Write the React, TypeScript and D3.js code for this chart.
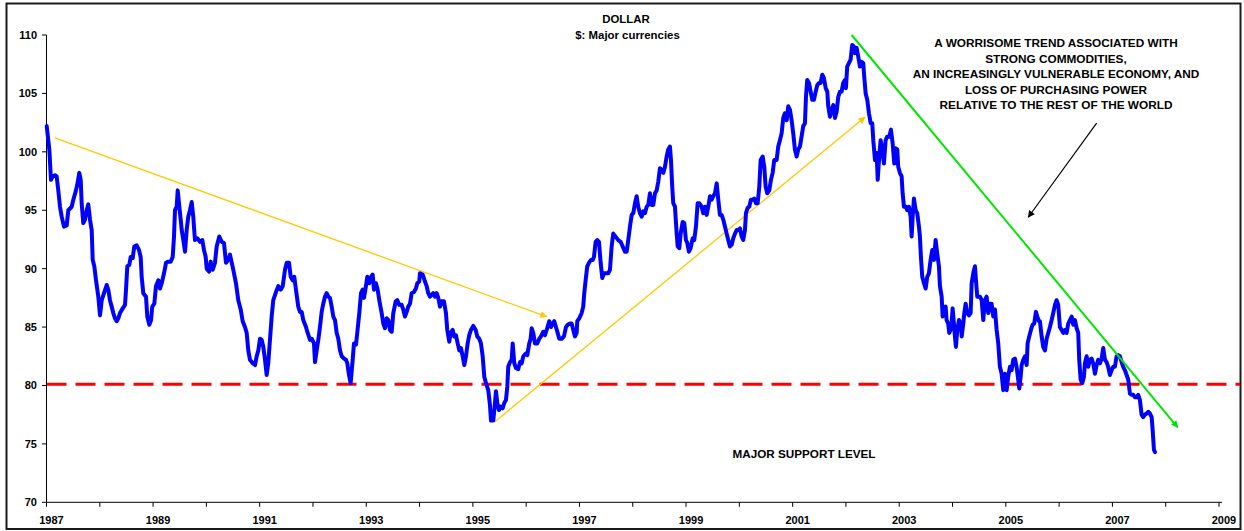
import React from 'react';
import * as d3 from 'd3';

// Weekly dollar index vs major currencies (decimal year, index value)
const dates: number[] = [
  1987.004, 1987.053, 1987.084, 1987.116, 1987.159, 1987.191, 1987.221, 1987.253, 1987.285, 1987.328,
  1987.379, 1987.409, 1987.473, 1987.503, 1987.553, 1987.578, 1987.615, 1987.642, 1987.660, 1987.690,
  1987.722, 1987.754, 1987.784, 1987.816, 1987.848, 1987.867, 1987.897, 1987.929, 1987.972, 1988.004,
  1988.036, 1988.079, 1988.129, 1988.159, 1988.191, 1988.223, 1988.253, 1988.285, 1988.317, 1988.347,
  1988.379, 1988.430, 1988.473, 1988.492, 1988.516, 1988.553, 1988.580, 1988.617, 1988.647, 1988.692,
  1988.735, 1988.767, 1988.786, 1988.816, 1988.867, 1988.891, 1988.929, 1988.961, 1988.985, 1989.023,
  1989.054, 1989.098, 1989.129, 1989.161, 1989.205, 1989.242, 1989.285, 1989.330, 1989.368, 1989.392,
  1989.411, 1989.443, 1989.462, 1989.492, 1989.518, 1989.537, 1989.567, 1989.599, 1989.630, 1989.660,
  1989.692, 1989.724, 1989.754, 1989.767, 1989.786, 1989.829, 1989.880, 1989.923, 1989.955, 1989.987,
  1990.006, 1990.049, 1990.081, 1990.118, 1990.161, 1990.193, 1990.242, 1990.287, 1990.330, 1990.368,
  1990.411, 1990.443, 1990.505, 1990.555, 1990.599, 1990.644, 1990.681, 1990.724, 1990.756, 1990.786,
  1990.818, 1990.869, 1990.912, 1990.944, 1990.974, 1991.006, 1991.038, 1991.068, 1991.100, 1991.131,
  1991.161, 1991.193, 1991.225, 1991.255, 1991.306, 1991.349, 1991.394, 1991.432, 1991.475, 1991.507,
  1991.550, 1991.582, 1991.619, 1991.649, 1991.681, 1991.724, 1991.756, 1991.788, 1991.818, 1991.869,
  1991.893, 1991.944, 1991.976, 1992.019, 1992.038, 1992.069, 1992.100, 1992.131, 1992.163, 1992.193,
  1992.225, 1992.257, 1992.287, 1992.319, 1992.351, 1992.381, 1992.413, 1992.445, 1992.475, 1992.507,
  1992.539, 1992.582, 1992.619, 1992.644, 1992.675, 1992.707, 1992.745, 1992.769, 1992.807, 1992.831,
  1992.869, 1992.901, 1992.932, 1992.957, 1992.994, 1993.019, 1993.056, 1993.088, 1993.120, 1993.144,
  1993.182, 1993.214, 1993.244, 1993.289, 1993.319, 1993.351, 1993.383, 1993.413, 1993.445, 1993.477,
  1993.507, 1993.552, 1993.582, 1993.619, 1993.664, 1993.694, 1993.726, 1993.758, 1993.788, 1993.820,
  1993.852, 1993.895, 1993.932, 1993.957, 1993.994, 1994.007, 1994.058, 1994.101, 1994.133, 1994.163,
  1994.195, 1994.227, 1994.257, 1994.289, 1994.321, 1994.351, 1994.383, 1994.415, 1994.458, 1994.495,
  1994.520, 1994.557, 1994.584, 1994.621, 1994.651, 1994.683, 1994.715, 1994.745, 1994.777, 1994.809,
  1994.839, 1994.871, 1994.902, 1994.932, 1994.964, 1995.008, 1995.053, 1995.083, 1995.120, 1995.152,
  1995.184, 1995.214, 1995.246, 1995.289, 1995.321, 1995.340, 1995.383, 1995.415, 1995.433, 1995.458,
  1995.490, 1995.522, 1995.559, 1995.589, 1995.621, 1995.646, 1995.664, 1995.696, 1995.728, 1995.747,
  1995.777, 1995.809, 1995.852, 1995.884, 1995.916, 1995.946, 1995.996, 1996.021, 1996.058, 1996.084,
  1996.103, 1996.133, 1996.165, 1996.208, 1996.246, 1996.278, 1996.321, 1996.353, 1996.385, 1996.433,
  1996.465, 1996.497, 1996.527, 1996.559, 1996.591, 1996.621, 1996.666, 1996.709, 1996.747, 1996.779,
  1996.822, 1996.854, 1996.884, 1996.916, 1996.948, 1996.959, 1996.996, 1997.041, 1997.071, 1997.090,
  1997.116, 1997.146, 1997.178, 1997.216, 1997.248, 1997.272, 1997.304, 1997.334, 1997.366, 1997.398,
  1997.428, 1997.460, 1997.497, 1997.540, 1997.572, 1997.604, 1997.634, 1997.685, 1997.728, 1997.773,
  1997.811, 1997.854, 1997.886, 1997.916, 1997.948, 1997.980, 1998.010, 1998.042, 1998.073, 1998.103,
  1998.135, 1998.167, 1998.197, 1998.229, 1998.261, 1998.291, 1998.323, 1998.355, 1998.385, 1998.417,
  1998.449, 1998.479, 1998.510, 1998.542, 1998.572, 1998.604, 1998.636, 1998.666, 1998.698, 1998.717,
  1998.741, 1998.760, 1998.792, 1998.824, 1998.843, 1998.873, 1998.899, 1998.937, 1998.967, 1998.998,
  1999.023, 1999.054, 1999.086, 1999.124, 1999.154, 1999.186, 1999.218, 1999.248, 1999.293, 1999.323,
  1999.355, 1999.387, 1999.417, 1999.449, 1999.481, 1999.511, 1999.543, 1999.575, 1999.605, 1999.636,
  1999.668, 1999.698, 1999.730, 1999.762, 1999.792, 1999.824, 1999.856, 1999.886, 1999.918, 1999.950,
  1999.980, 2000.012, 2000.043, 2000.073, 2000.105, 2000.124, 2000.156, 2000.186, 2000.218, 2000.250,
  2000.280, 2000.312, 2000.344, 2000.374, 2000.400, 2000.438, 2000.468, 2000.494, 2000.524, 2000.561,
  2000.593, 2000.625, 2000.655, 2000.700, 2000.730, 2000.762, 2000.794, 2000.824, 2000.856, 2000.888,
  2000.918, 2000.950, 2000.981, 2001.011, 2001.043, 2001.075, 2001.105, 2001.137, 2001.199, 2001.231,
  2001.250, 2001.274, 2001.306, 2001.338, 2001.368, 2001.400, 2001.432, 2001.462, 2001.494, 2001.525,
  2001.556, 2001.588, 2001.620, 2001.650, 2001.668, 2001.700, 2001.732, 2001.762, 2001.794, 2001.826,
  2001.856, 2001.888, 2001.919, 2001.949, 2001.981, 2002.000, 2002.024, 2002.056, 2002.088, 2002.118,
  2002.150, 2002.169, 2002.201, 2002.231, 2002.263, 2002.295, 2002.325, 2002.344, 2002.370, 2002.400,
  2002.432, 2002.464, 2002.494, 2002.513, 2002.545, 2002.577, 2002.596, 2002.625, 2002.651, 2002.681,
  2002.713, 2002.745, 2002.775, 2002.813, 2002.845, 2002.877, 2002.907, 2002.933, 2002.963, 2002.982,
  2003.013, 2003.045, 2003.064, 2003.089, 2003.126, 2003.150, 2003.182, 2003.214, 2003.233, 2003.252,
  2003.276, 2003.308, 2003.338, 2003.370, 2003.388, 2003.407, 2003.432, 2003.464, 2003.496, 2003.526,
  2003.557, 2003.589, 2003.620, 2003.652, 2003.683, 2003.713, 2003.745, 2003.764, 2003.796, 2003.815,
  2003.845, 2003.871, 2003.889, 2003.919, 2003.938, 2003.964, 2003.983, 2004.002, 2004.027, 2004.045,
  2004.064, 2004.089, 2004.121, 2004.153, 2004.172, 2004.202, 2004.221, 2004.246, 2004.276, 2004.308,
  2004.340, 2004.359, 2004.389, 2004.421, 2004.440, 2004.464, 2004.496, 2004.515, 2004.547, 2004.577,
  2004.608, 2004.640, 2004.670, 2004.702, 2004.734, 2004.764, 2004.796, 2004.828, 2004.858, 2004.889,
  2004.921, 2004.951, 2004.983, 2005.015, 2005.045, 2005.077, 2005.109, 2005.139, 2005.171, 2005.202,
  2005.233, 2005.252, 2005.278, 2005.297, 2005.327, 2005.359, 2005.391, 2005.409, 2005.439, 2005.471,
  2005.503, 2005.533, 2005.565, 2005.589, 2005.621, 2005.640, 2005.672, 2005.702, 2005.734, 2005.766,
  2005.796, 2005.828, 2005.860, 2005.890, 2005.922, 2005.953, 2005.983, 2006.015, 2006.047, 2006.077,
  2006.109, 2006.141, 2006.171, 2006.203, 2006.235, 2006.265, 2006.297, 2006.329, 2006.359, 2006.377,
  2006.404, 2006.434, 2006.466, 2006.484, 2006.516, 2006.546, 2006.578, 2006.610, 2006.640, 2006.672,
  2006.704, 2006.734, 2006.766, 2006.798, 2006.828, 2006.860, 2006.891, 2006.921, 2006.953, 2006.985,
  2007.015, 2007.047, 2007.079, 2007.109, 2007.141, 2007.173, 2007.203, 2007.235, 2007.267, 2007.297,
  2007.329, 2007.361, 2007.391, 2007.422, 2007.454, 2007.484, 2007.516, 2007.548, 2007.578, 2007.610,
  2007.642, 2007.672, 2007.704, 2007.736, 2007.755, 2007.779, 2007.798,
];

const values: number[] = [
  102.2, 100.2, 97.6, 97.9, 98.0, 97.9, 96.7, 95.3, 94.45, 93.6,
  93.7, 95.0, 95.3, 95.9, 96.7, 97.2, 98.2, 97.6, 95.6, 93.9,
  94.2, 95.0, 95.5, 94.2, 93.3, 90.75, 90.2, 89.0, 87.6, 86.0,
  87.3, 87.9, 88.6, 88.2, 87.3, 86.75, 86.2, 85.75, 85.5, 85.75,
  86.2, 86.6, 86.9, 88.2, 90.2, 90.3, 91.0, 90.9, 91.9, 92.0,
  91.6, 91.0, 89.3, 87.9, 87.6, 85.9, 85.2, 85.6, 86.75, 87.0,
  88.5, 89.0, 88.3, 88.75, 89.6, 90.5, 90.6, 90.6, 91.0, 92.7,
  95.0, 95.3, 96.7, 95.3, 94.2, 93.3, 92.45, 91.45, 93.3, 94.45,
  95.0, 95.7, 94.45, 93.6, 92.45, 92.6, 92.3, 92.45, 91.6, 91.0,
  90.0, 89.75, 90.6, 89.9, 90.5, 91.9, 92.75, 92.3, 92.2, 90.5,
  90.75, 91.2, 89.9, 88.75, 87.3, 86.5, 85.5, 85.0, 84.5, 83.0,
  82.2, 81.9, 81.75, 82.5, 83.0, 84.0, 83.9, 83.3, 82.2, 80.9,
  81.9, 83.9, 85.9, 87.3, 88.0, 88.5, 88.2, 88.5, 89.9, 90.5,
  90.5, 89.3, 89.0, 89.3, 88.2, 86.75, 86.3, 86.3, 85.6, 85.0,
  84.6, 83.9, 84.0, 83.6, 82.0, 83.0, 83.9, 85.0, 86.3, 87.0,
  87.6, 87.9, 87.6, 87.5, 86.75, 85.9, 85.6, 84.5, 84.0, 83.0,
  82.5, 82.3, 82.2, 81.9, 80.9, 80.2, 82.2, 83.6, 83.5, 84.5,
  86.2, 87.9, 88.2, 87.5, 88.5, 89.3, 88.75, 89.3, 89.5, 88.2,
  88.75, 88.2, 87.3, 86.2, 85.3, 84.9, 85.75, 85.6, 84.75, 84.6,
  86.2, 87.2, 87.3, 86.9, 86.9, 86.5, 85.9, 86.3, 86.75, 87.0,
  87.9, 88.0, 88.3, 88.75, 88.9, 89.6, 89.5, 88.9, 88.5, 87.9,
  87.6, 87.75, 87.9, 87.6, 87.9, 87.5, 86.75, 87.2, 87.2, 86.2,
  84.75, 83.75, 84.5, 84.75, 84.2, 84.3, 83.6, 83.0, 83.2, 82.5,
  81.75, 82.5, 83.6, 84.3, 84.75, 85.1, 84.75, 84.2, 84.0, 83.6,
  82.5, 80.75, 80.2, 79.6, 78.3, 77.0, 77.0, 78.5, 79.5, 78.5,
  77.9, 78.2, 78.05, 78.5, 78.75, 79.9, 81.6, 82.0, 82.2, 83.6,
  81.9, 81.5, 81.4, 82.0, 81.9, 82.5, 82.75, 82.6, 83.6, 84.0,
  84.9, 84.5, 83.6, 83.6, 84.0, 84.2, 84.6, 84.3, 84.75, 85.5,
  85.0, 85.3, 85.5, 85.0, 84.5, 84.0, 84.0, 84.2, 85.0, 85.2,
  85.3, 85.3, 84.75, 84.2, 84.5, 85.5, 85.75, 86.2, 86.75, 87.9,
  89.0, 90.2, 90.5, 90.75, 90.75, 91.0, 92.3, 92.45, 92.3, 90.5,
  89.2, 89.6, 89.6, 89.6, 89.9, 91.9, 93.0, 92.7, 92.45, 92.3,
  91.9, 91.45, 91.45, 92.45, 93.6, 94.6, 94.75, 95.6, 96.2, 95.3,
  94.75, 94.45, 94.9, 94.75, 95.3, 95.45, 96.45, 95.45, 95.45, 96.45,
  96.7, 97.45, 98.6, 98.45, 98.2, 98.7, 99.6, 100.2, 100.45, 99.3,
  97.0, 95.6, 95.3, 93.0, 91.9, 91.75, 93.0, 94.0, 93.9, 92.45,
  92.2, 91.45, 91.75, 92.6, 92.45, 93.6, 95.6, 95.6, 95.3, 94.75,
  95.3, 94.6, 95.3, 96.2, 95.9, 96.2, 96.45, 97.3, 95.9, 94.6,
  94.6, 94.2, 93.6, 93.0, 92.45, 91.9, 92.05, 92.6, 93.0, 93.3,
  93.3, 93.45, 92.75, 92.45, 93.3, 94.75, 95.2, 95.3, 95.9, 95.9,
  96.0, 95.6, 95.6, 97.0, 99.3, 99.6, 98.7, 97.0, 96.45, 96.7,
  97.6, 98.2, 99.3, 99.3, 100.45, 101.0, 101.6, 102.9, 103.3, 102.7,
  103.9, 103.6, 102.7, 101.6, 100.2, 99.6, 100.2, 100.45, 102.2, 102.45,
  104.7, 106.15, 105.9, 105.15, 104.45, 104.45, 105.15, 105.7, 105.9, 105.9,
  106.6, 106.3, 105.45, 105.15, 103.9, 103.0, 103.6, 104.0, 102.9, 103.45,
  104.7, 105.15, 105.15, 105.9, 106.15, 105.45, 107.3, 107.6, 107.9, 109.15,
  109.0, 108.45, 108.9, 108.15, 107.3, 107.7, 107.6, 106.4, 105.0, 104.45,
  103.3, 102.45, 102.45, 101.0, 99.3, 99.9, 97.6, 99.6, 101.0, 100.2,
  99.0, 101.0, 101.3, 101.3, 101.9, 100.7, 99.0, 100.3, 100.2, 98.7,
  98.2, 97.9, 96.45, 95.3, 95.3, 95.0, 95.3, 94.45, 92.75, 94.45,
  96.0, 95.0, 94.75, 93.6, 92.75, 91.0, 89.3, 88.75, 88.3, 89.3,
  89.6, 90.75, 91.6, 90.75, 92.45, 91.3, 90.2, 88.5, 87.6, 85.9,
  86.5, 86.75, 85.6, 85.3, 84.5, 84.75, 85.3, 86.6, 85.3, 84.2,
  83.3, 84.75, 85.6, 85.3, 84.2, 85.3, 86.2, 87.0, 86.2, 86.0,
  86.2, 88.75, 89.6, 90.2, 89.0, 87.6, 87.6, 87.6, 87.3, 85.6,
  87.3, 87.6, 86.2, 87.0, 87.0, 85.9, 86.5, 84.75, 83.6, 81.6,
  81.0, 79.6, 81.0, 79.6, 80.75, 81.6, 81.3, 82.2, 82.3, 81.6,
  80.5, 79.75, 80.75, 81.75, 82.2, 82.5, 81.75, 83.6, 84.2, 84.75,
  85.2, 85.3, 86.3, 85.9, 85.5, 85.5, 84.2, 83.3, 83.0, 84.0,
  84.5, 85.0, 85.6, 86.2, 86.9, 87.3, 86.9, 85.0, 84.75, 84.5,
  84.75, 84.5, 85.3, 85.6, 85.9, 85.2, 85.6, 84.9, 84.5, 82.2,
  80.5, 80.2, 80.75, 81.9, 82.5, 81.6, 82.2, 82.3, 81.9, 81.0,
  81.75, 82.2, 81.9, 82.3, 83.2, 82.2, 82.0, 81.6, 80.9, 81.3,
  81.6, 81.6, 82.5, 82.6, 82.5, 82.0, 81.6, 81.3, 80.9, 80.5,
  79.3, 79.2, 79.2, 79.0, 79.0, 79.2, 78.75, 77.5, 77.3, 77.5,
  77.6, 77.75, 77.6, 77.3, 76.2, 74.5, 74.3,
];

const yTicks: number[] = [70, 75, 80, 85, 90, 95, 100, 105, 110];
const xTickYears: number[] = [
  1987, 1988, 1989, 1990, 1991, 1992, 1993, 1994, 1995, 1996, 1997, 1998,
  1999, 2000, 2001, 2002, 2003, 2004, 2005, 2006, 2007, 2008, 2009,
];
const xLabelYears: number[] = [1987, 1989, 1991, 1993, 1995, 1997, 1999, 2001, 2003, 2005, 2007, 2009];

const titleLines: string[] = ['DOLLAR', '$: Major currencies'];
const noteLines: string[] = [
  'A WORRISOME TREND ASSOCIATED WITH',
  'STRONG COMMODITIES,',
  'AN INCREASINGLY VULNERABLE ECONOMY, AND',
  'LOSS OF PURCHASING POWER',
  'RELATIVE TO THE REST OF THE WORLD',
];
const supportLevel = 80.1;
const supportLabel = 'MAJOR SUPPORT LEVEL';

// Trend arrows in data space: [startYear, startValue, endYear, endValue]
const downTrend1987: number[] = [1987.159, 101.19, 1996.385, 85.89];
const upTrend1995: number[] = [1995.401, 76.85, 2002.356, 102.96];
const downTrend2002: number[] = [2002.107, 110.0, 2008.224, 76.42];
const noteArrow: number[] = [2006.704, 102.45, 2005.421, 94.4];

const W = 1244;
const H = 531;
const FONT = '"Liberation Sans", Arial, Helvetica, sans-serif';

export default function App() {
  const x = d3.scaleLinear().domain([1987, 2009]).range([46.5, 1219]);
  const y = d3.scaleLinear().domain([70, 110]).range([502.3, 35]);

  const series = dates.map((d, i) => [d, values[i]] as [number, number]);
  const line = d3
    .line<[number, number]>()
    .x((d) => x(d[0]))
    .y((d) => y(d[1]))
    .curve(d3.curveLinear);

  const arrow = (a: number[], color: string, width: number, marker: string) => (
    <line
      x1={x(a[0])}
      y1={y(a[1])}
      x2={x(a[2])}
      y2={y(a[3])}
      stroke={color}
      strokeWidth={width}
      markerEnd={`url(#${marker})`}
    />
  );

  const marker = (id: string, color: string) => (
    <marker
      id={id}
      viewBox="0 0 10 10"
      refX={9}
      refY={5}
      markerWidth={9}
      markerHeight={7}
      markerUnits="userSpaceOnUse"
      orient="auto"
    >
      <path d="M0,0 L10,5 L0,10 z" fill={color} />
    </marker>
  );

  const xAxisY = y(70);

  return (
    <div style={{ position: 'absolute', left: 0, top: 0, width: W, height: H, background: '#fff' }}>
      <svg width={W} height={H} style={{ display: 'block' }} fontFamily={FONT}>
        <defs>
          {marker('arrY', '#FFC800')}
          {marker('arrG', '#00E000')}
          {marker('arrK', '#000000')}
        </defs>
        <rect x={0} y={0} width={W} height={H} fill="#fff" />
        <rect x={6.5} y={3.5} width={1234} height={525.5} fill="none" stroke="#1a1a1a" strokeWidth={2} />

        {/* Titles */}
        <text x={626} y={23} textAnchor="middle" fontSize={11.4} fontWeight="bold" fill="#000">
          {titleLines[0]}
        </text>
        <text x={627.5} y={39} textAnchor="middle" fontSize={11.4} fontWeight="bold" fill="#000">
          {titleLines[1]}
        </text>

        {/* Support level */}
        <line
          x1={x(1987)}
          x2={1240}
          y1={y(supportLevel)}
          y2={y(supportLevel)}
          stroke="#FF0000"
          strokeWidth={3}
          strokeDasharray="20 9"
        />

        {/* Axes */}
        <line x1={x(1987)} x2={x(1987)} y1={y(110)} y2={xAxisY} stroke="#000" strokeWidth={1} />
        <line x1={x(1987)} x2={1222} y1={xAxisY} y2={xAxisY} stroke="#000" strokeWidth={1} />
        {yTicks.map((t) => (
          <g key={`yt${t}`}>
            <line x1={x(1987) - 4.5} x2={x(1987)} y1={y(t)} y2={y(t)} stroke="#000" strokeWidth={1} />
            <text x={37} y={y(t)} dy="0.35em" textAnchor="end" fontSize={11} fontWeight="bold" fill="#000">
              {t}
            </text>
          </g>
        ))}
        {xTickYears.map((t) => (
          <line key={`xt${t}`} x1={x(t)} x2={x(t)} y1={xAxisY} y2={xAxisY + 4.5} stroke="#000" strokeWidth={1} />
        ))}
        {xLabelYears.map((t) => (
          <text key={`xl${t}`} x={x(t) + 5} y={524} textAnchor="middle" fontSize={11} fontWeight="bold" fill="#000">
            {t}
          </text>
        ))}

        {/* Trend arrows */}
        {arrow(downTrend1987, '#FFC800', 1.3, 'arrY')}
        {arrow(upTrend1995, '#FFC800', 1.3, 'arrY')}

        {/* Dollar series */}
        <path
          d={line(series) || ''}
          fill="none"
          stroke="#0000FF"
          strokeWidth={4}
          strokeLinejoin="round"
          strokeLinecap="round"
        />

        {arrow(downTrend2002, '#00E600', 2, 'arrG')}
        {arrow(noteArrow, '#000000', 1.2, 'arrK')}

        {/* Annotation */}
        {noteLines.map((s, i) => (
          <text key={`n${i}`} x={1056} y={47 + i * 15.5} textAnchor="middle" fontSize={11.8} fontWeight="bold" fill="#000">
            {s}
          </text>
        ))}
        <text x={804} y={457.5} textAnchor="middle" fontSize={11.7} fontWeight="bold" fill="#000">
          {supportLabel}
        </text>
      </svg>
    </div>
  );
}
